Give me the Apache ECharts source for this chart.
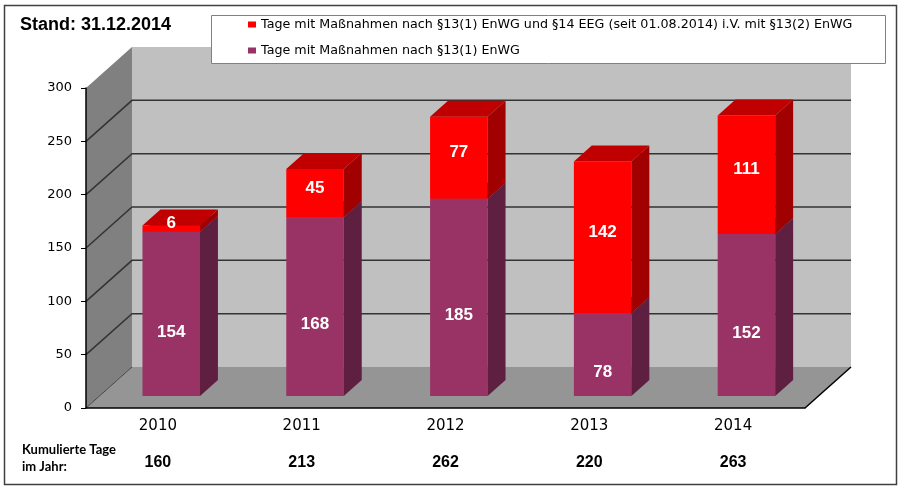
<!DOCTYPE html>
<html><head><meta charset="utf-8">
<script src="https://cdn.jsdelivr.net/npm/echarts@6/dist/echarts.min.js"></script>
<style>html,body{margin:0;padding:0;background:#fff}#c{width:906px;height:491px}</style>
</head><body><div id="c"></div>
<script>
// ---- data ----
const categories = ['2010', '2011', '2012', '2013', '2014'];
const seriesNames = [
  'Tage mit Maßnahmen nach §13(1) EnWG und §14 EEG (seit 01.08.2014) i.V. mit §13(2) EnWG',
  'Tage mit Maßnahmen nach §13(1) EnWG'
];
const valuesEnWG = [154, 168, 185, 78, 152];      // purple, bottom
const valuesEEG = [6, 45, 77, 142, 111];          // red, top
const yMin = 0, yMax = 300, yStep = 50;
const yTickValues = [0, 50, 100, 150, 200, 250, 300];
const totals = categories.map((c, i) => valuesEnWG[i] + valuesEEG[i]);

// ---- style constants ----
const DX = 46, DY = -41;          // depth vector of the 3D floor
const F0 = 0.29, F1 = 0.39;       // bar offset into depth, bar depth
const BAR_W = 0.40;               // fraction of the category band
const COL = {
  red: {front: '#FF0000', side: '#A00000', top: '#C00000'},
  purple: {front: '#993366', side: '#5F1F40', top: '#7A2952'}
};

const chart = echarts.init(document.getElementById('c'));

function wallsRender(params, api) {
  const cs = params.coordSys;
  const x0 = cs.x, y0 = cs.y, w = cs.width, h = cs.height;
  const yb = y0 + h;
  const ch = [];
  ch.push({type: 'rect', shape: {x: x0 + DX, y: y0 + DY, width: w, height: h}, style: {fill: '#C0C0C0'}});
  ch.push({type: 'polygon', shape: {points: [[x0, y0], [x0 + DX, y0 + DY], [x0 + DX, yb + DY], [x0, yb]]}, style: {fill: '#808080'}});
  ch.push({type: 'polygon', shape: {points: [[x0, yb], [x0 + DX, yb + DY], [x0 + w + DX, yb + DY], [x0 + w, yb]]}, style: {fill: '#959595'}});
  yTickValues.forEach(v => {
    if (v === yMin || v === yMax) return;
    const y = api.coord([0, v])[1];
    ch.push({type: 'polyline', shape: {points: [[x0, y], [x0 + DX, y + DY], [x0 + w + DX, y + DY]]},
      style: {stroke: '#333', lineWidth: 1.5, fill: null}});
  });
  ch.push({type: 'line', shape: {x1: x0, y1: yb, x2: x0 + DX, y2: yb + DY}, style: {stroke: '#444', lineWidth: 1}});
  ch.push({type: 'line', shape: {x1: x0 + w, y1: yb, x2: x0 + w + DX, y2: yb + DY}, style: {stroke: '#000', lineWidth: 1.5}});
  return {type: 'group', children: ch};
}

function barRender(col, labelShift) {
  return function (params, api) {
    const i = api.value(0), v0 = api.value(1), v1 = api.value(2), lab = api.value(3);
    const p0 = api.coord([i, v0]), p1 = api.coord([i, v1]);
    const bw = api.size([1, 0])[0] * BAR_W;
    const sx = DX * F0, sy = DY * F0, dx = DX * F1, dy = DY * F1;
    const xl = p0[0] + sx - bw / 2, xr = xl + bw;
    const yb = p0[1] + sy, yt = p1[1] + sy;
    return {type: 'group', children: [
      {type: 'rect', shape: {x: xl, y: yt, width: bw, height: yb - yt}, style: {fill: col.front}},
      {type: 'polygon', shape: {points: [[xr, yb], [xr + dx, yb + dy], [xr + dx, yt + dy], [xr, yt]]}, style: {fill: col.side}},
      {type: 'polygon', shape: {points: [[xl, yt], [xl + dx, yt + dy], [xr + dx, yt + dy], [xr, yt]]}, style: {fill: col.top}},
      {type: 'text', z2: 10, style: {x: (xl + xr) / 2, y: (yb + yt) / 2 + labelShift, text: String(lab),
        fill: '#fff', font: 'bold 17px "Liberation Sans", Arial, sans-serif', align: 'center', verticalAlign: 'middle'}}
    ]};
  };
}

const axisFont = '"DejaVu Sans", sans-serif';

chart.setOption({
  animation: false,
  backgroundColor: '#fff',
  grid: {left: 86, right: 101, top: 88, bottom: 83},
  legend: {
    data: [seriesNames[0], seriesNames[1]], orient: 'vertical', left: 248, top: 18, padding: 0,
    itemWidth: 8, itemHeight: 6, itemGap: 13, icon: 'rect', z: 20, selectedMode: false,
    textStyle: {fontFamily: axisFont, fontSize: 12.7, color: '#000'}
  },
  xAxis: [{
    type: 'category', data: categories, z: 5,
    axisLine: {lineStyle: {color: '#000', width: 1.5}},
    axisTick: {length: 5, lineStyle: {color: '#000'}},
    axisLabel: {fontFamily: axisFont, fontSize: 15, color: '#000', margin: 11}
  }, {
    type: 'category', data: totals.map(String), position: 'bottom', offset: 36,
    axisLine: {show: false}, axisTick: {show: false},
    axisLabel: {fontFamily: '"Liberation Sans", Arial, sans-serif', fontWeight: 'bold', fontSize: 16, color: '#000', margin: 11}
  }],
  yAxis: {
    type: 'value', min: yMin, max: yMax, interval: yStep, z: 5,
    splitLine: {show: false},
    axisLine: {show: true, lineStyle: {color: '#000', width: 1.5}},
    axisTick: {show: true, length: 5, lineStyle: {color: '#000'}},
    axisLabel: {fontFamily: axisFont, fontSize: 13, color: '#000', margin: 14}
  },
  series: [
    {type: 'custom', name: 'walls', z: 1, silent: true, renderItem: wallsRender, data: [[0, 0]], encode: {x: 0, y: 1}},
    {type: 'custom', name: seriesNames[1], z: 2, itemStyle: {color: '#993366'}, renderItem: barRender(COL.purple, 18),
      data: categories.map((c, i) => [i, 0, valuesEnWG[i], valuesEnWG[i]]), encode: {x: 0, y: [1, 2]}},
    {type: 'custom', name: seriesNames[0], z: 2, itemStyle: {color: '#FF0000'}, renderItem: barRender(COL.red, -5),
      data: categories.map((c, i) => [i, valuesEnWG[i], valuesEnWG[i] + valuesEEG[i], valuesEEG[i]]), encode: {x: 0, y: [1, 2]}}
  ],
  graphic: [
    {type: 'rect', z: 30, silent: true, shape: {x: 4.5, y: 5.5, width: 892, height: 479},
      style: {fill: null, stroke: '#404040', lineWidth: 1.5}},
    {type: 'rect', z: 10, silent: true, shape: {x: 211.5, y: 15.5, width: 674, height: 48},
      style: {fill: '#fff', stroke: '#808080', lineWidth: 1}},
    {type: 'text', z: 10, left: 20, top: 16,
      style: {text: 'Stand: 31.12.2014', font: 'bold 18px "Liberation Sans", Arial, sans-serif', fill: '#000'}},
    {type: 'text', z: 10, left: 22, top: 441,
      style: {text: 'Kumulierte Tage\nim Jahr:', font: 'bold 13px Lato, sans-serif', lineHeight: 17, fill: '#000'}}
  ]
});
</script></body></html>
